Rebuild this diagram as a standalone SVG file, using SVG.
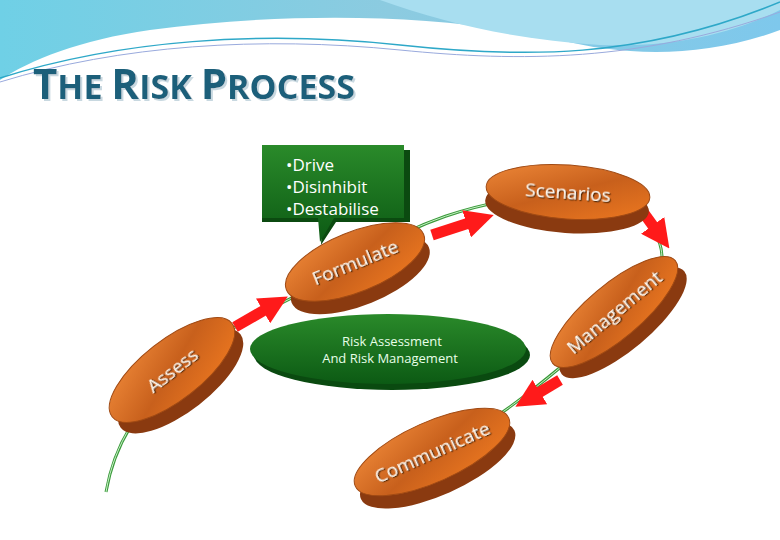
<svg xmlns="http://www.w3.org/2000/svg" width="780" height="540" viewBox="0 0 780 540">
<defs>
<linearGradient id="sky" x1="0" y1="0" x2="1" y2="0"><stop offset="0" stop-color="#6fd0e6"/><stop offset="0.5" stop-color="#8ccbe0"/><stop offset="1" stop-color="#7ec8ec"/></linearGradient>
<linearGradient id="top" x1="0" y1="0" x2="1" y2="1"><stop offset="0" stop-color="#f08a3a"/><stop offset="0.5" stop-color="#c8601c"/><stop offset="1" stop-color="#f07a20"/></linearGradient>
<linearGradient id="gr" x1="0" y1="0" x2="0" y2="1"><stop offset="0" stop-color="#2a8a2a"/><stop offset="1" stop-color="#0c5a14"/></linearGradient>
<filter id="tsh" x="-10%" y="-30%" width="120%" height="160%"><feDropShadow dx="1.2" dy="1.2" stdDeviation="0.4" flood-color="#4a2006"/></filter>
<filter id="tsh2" x="-10%" y="-30%" width="120%" height="160%"><feDropShadow dx="2" dy="2" stdDeviation="0.3" flood-color="#c8d8e0"/></filter>
<marker id="ah" viewBox="0 0 10 10" refX="2" refY="5" markerWidth="2.6" markerHeight="2.6" orient="auto"><path d="M0,0 L10,5 L0,10 z" fill="#ff1a1a"/></marker>
<style>
.rim{fill:#8a3a10}
.top{fill:url(#top);stroke:#a04a14;stroke-width:1}
.lbl{font-family:"Open Sans","DejaVu Sans",sans-serif;font-size:19px;text-anchor:middle;fill:#fff8ee;filter:url(#tsh)}
.arr{stroke:#ff1a1a;stroke-width:11;fill:none;marker-end:url(#ah)}
</style>
</defs>
<rect width="780" height="540" fill="#fff"/>
<path d="M0,0 H780 V30 C700,60 620,55 560,40 C450,15 300,10 150,30 C80,40 30,60 0,80 Z" fill="url(#sky)"/>
<path d="M380,0 C450,25 520,40 600,45 C680,48 740,30 780,10 V0 Z" fill="#a8def0"/>
<path d="M0,78 C120,40 260,30 400,45 C520,58 640,60 780,2" fill="none" stroke="#2ea8c8" stroke-width="1.5"/>
<path d="M0,82 C120,45 260,36 400,50 C520,62 640,62 780,12" fill="none" stroke="#9ad" stroke-width="1"/>
<text x="33" y="99" font-family="'Open Sans','DejaVu Sans',sans-serif" font-weight="bold" fill="#1a5f7a" font-size="34" textLength="322" lengthAdjust="spacingAndGlyphs" filter="url(#tsh2)"><tspan font-size="42">T</tspan>HE <tspan font-size="42">R</tspan>ISK <tspan font-size="42">P</tspan>ROCESS</text>
<g id="connectors">
<path d="M106,492 C115,440 140,410 172,372 C210,330 300,300 355,262 C410,225 470,200 568,193 C650,190 690,260 640,300 C590,340 520,410 433,455" fill="none" stroke="#3a9a3a" stroke-width="3"/>
<path d="M106,492 C115,440 140,410 172,372 C210,330 300,300 355,262 C410,225 470,200 568,193 C650,190 690,260 640,300 C590,340 520,410 433,455" fill="none" stroke="#c8f0c8" stroke-width="1"/>
<line class="arr" x1="235" y1="327" x2="268" y2="308"/>
<line class="arr" x1="432" y1="235" x2="472" y2="222"/>
<line class="arr" x1="643" y1="212" x2="656" y2="230"/>
<line class="arr" x1="560" y1="380" x2="535" y2="395"/>
</g>
<g id="risk">
<ellipse cx="392" cy="355" rx="138" ry="35" fill="#0a4a10"/>
<ellipse cx="388" cy="349" rx="138" ry="35" fill="url(#gr)"/>
<text x="392" y="346" font-family="'Open Sans','DejaVu Sans',sans-serif" font-size="13" fill="#e8ffe8" text-anchor="middle">Risk Assessment</text>
<text x="390" y="363" font-family="'Open Sans','DejaVu Sans',sans-serif" font-size="13" fill="#e8ffe8" text-anchor="middle">And Risk Management</text>
</g>
<g id="callout">
<path d="M268,150 H410 V222 H336 L321,245 L322,222 H262 V155 Z" fill="#0b4a10"/>
<path d="M262,145 H404 V218 H334 L320,242 L318,218 H262 Z" fill="url(#gr)"/>
<text font-family="'Open Sans','DejaVu Sans',sans-serif" font-size="17" fill="#fff"><tspan x="286" y="171">•Drive</tspan><tspan x="286" y="193">•Disinhibit</tspan><tspan x="286" y="215">•Destabilise</tspan></text>
</g>
<g id="assess" transform="translate(172,370) rotate(-38)">
<ellipse cx="0" cy="14" rx="76" ry="30" class="rim"/><ellipse cx="0" cy="0" rx="76" ry="30" class="top"/>
<text class="lbl" y="7">Assess</text></g>
<g id="formulate" transform="translate(355,262) rotate(-22)">
<ellipse cx="0" cy="14" rx="74" ry="30" class="rim"/><ellipse cx="0" cy="0" rx="74" ry="30" class="top"/>
<text class="lbl" y="7">Formulate</text></g>
<g id="scenarios" transform="translate(568,192) rotate(4)">
<ellipse cx="0" cy="14" rx="82" ry="27" class="rim"/><ellipse cx="0" cy="0" rx="82" ry="27" class="top"/>
<text class="lbl" y="7">Scenarios</text></g>
<g id="management" transform="translate(614,312) rotate(-40)">
<ellipse cx="0" cy="14" rx="80" ry="27" class="rim"/><ellipse cx="0" cy="0" rx="80" ry="27" class="top"/>
<text class="lbl" y="7">Management</text></g>
<g id="communicate" transform="translate(432,452) rotate(-24)">
<ellipse cx="0" cy="14" rx="84" ry="30" class="rim"/><ellipse cx="0" cy="0" rx="84" ry="30" class="top"/>
<text class="lbl" y="7">Communicate</text></g>
</svg>
